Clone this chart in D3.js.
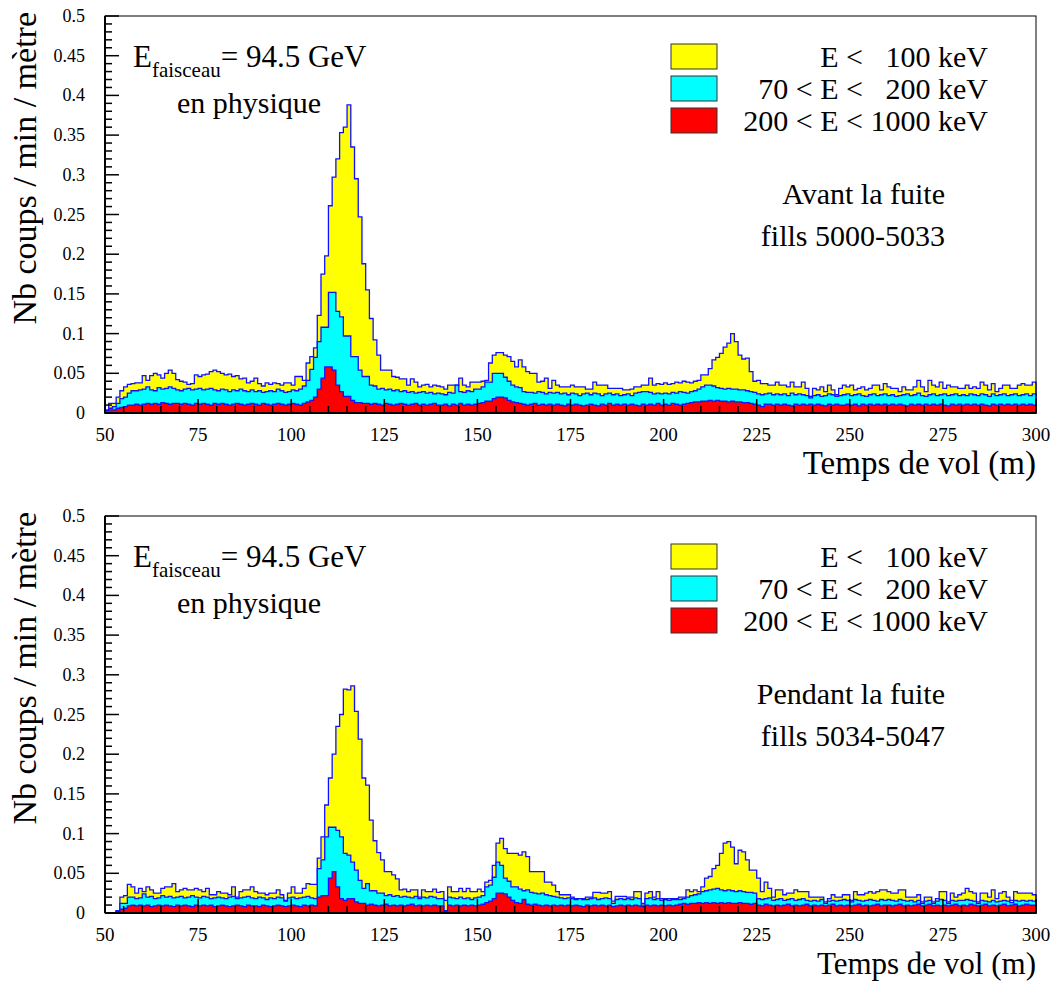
<!DOCTYPE html>
<html><head><meta charset="utf-8">
<script src="https://cdn.jsdelivr.net/npm/d3@7"></script>
<style>body{margin:0;background:#fff}</style>
</head><body>
<svg id="c" width="1054" height="981"></svg>
<script>
const binStart = 50, binEnd = 300;
const xMajorTicks = [50,75,100,125,150,175,200,225,250,275,300];
const yTickLabels = ["0","0.05","0.1","0.15","0.2","0.25","0.3","0.35","0.4","0.45","0.5"];
const legendLabels = ["E <   100 keV","70 < E <   200 keV","200 < E < 1000 keV"];
const seriesColors = ["#ffff00","#00ffff","#ff0000"];
const panelTexts = [["Avant la fuite","fills 5000-5033"],["Pendant la fuite","fills 5034-5047"]];

// Top panel (avant la fuite) — superimposed histograms, 1 m bins from 50 to 300
const topYellow = [
.004,.012,.012,.020,.028,.033,.036,.037,.038,.038,
.047,.041,.047,.050,.048,.044,.050,.054,.050,.042,
.040,.039,.036,.037,.048,.046,.048,.049,.052,.054,
.052,.050,.048,.049,.046,.047,.043,.044,.038,.040,
.044,.037,.034,.038,.036,.038,.037,.035,.038,.038,
.035,.046,.046,.041,.063,.071,.082,.123,.175,.198,
.261,.297,.320,.353,.360,.388,.335,.295,.247,.188,
.155,.119,.092,.073,.054,.054,.054,.046,.045,.043,
.043,.035,.043,.039,.033,.035,.036,.033,.035,.034,
.033,.030,.035,.035,.035,.044,.035,.033,.039,.039,
.039,.040,.041,.063,.073,.076,.076,.073,.071,.065,
.058,.067,.058,.052,.050,.050,.039,.040,.044,.031,
.041,.035,.033,.033,.033,.035,.033,.033,.033,.030,
.030,.039,.035,.035,.035,.031,.031,.031,.031,.029,
.029,.030,.033,.033,.035,.035,.044,.035,.037,.036,
.038,.036,.037,.039,.038,.040,.039,.038,.040,.041,
.048,.048,.056,.067,.070,.075,.083,.088,.100,.090,
.073,.068,.069,.052,.040,.041,.037,.037,.035,.035,
.039,.035,.035,.033,.039,.033,.033,.039,.031,.021,
.031,.029,.033,.027,.035,.029,.023,.031,.035,.033,
.035,.029,.031,.033,.029,.031,.035,.035,.029,.037,
.033,.031,.031,.027,.033,.029,.029,.033,.041,.033,
.027,.041,.035,.033,.039,.031,.035,.033,.033,.031,
.031,.035,.031,.033,.031,.039,.035,.029,.037,.027,
.031,.035,.035,.031,.031,.035,.037,.035,.035,.039];
const topCyan = [
.003,.006,.008,.012,.018,.020,.025,.028,.028,.029,
.030,.033,.029,.028,.032,.030,.031,.033,.031,.029,
.028,.030,.031,.029,.030,.031,.029,.030,.031,.029,
.028,.030,.029,.027,.029,.028,.030,.028,.027,.029,
.027,.028,.026,.027,.028,.027,.030,.028,.026,.027,
.029,.028,.030,.034,.041,.055,.070,.090,.108,.108,
.152,.152,.128,.121,.097,.097,.071,.071,.054,.046,
.046,.035,.034,.030,.031,.029,.030,.028,.029,.027,
.028,.026,.027,.025,.026,.027,.025,.026,.024,.025,
.024,.023,.026,.025,.035,.027,.026,.028,.027,.030,
.030,.033,.039,.039,.050,.050,.050,.045,.040,.035,
.033,.032,.027,.026,.026,.025,.027,.026,.024,.026,
.025,.026,.024,.025,.023,.025,.024,.022,.024,.025,
.023,.025,.024,.022,.024,.025,.023,.024,.022,.023,
.024,.022,.025,.026,.027,.027,.026,.024,.025,.024,
.025,.024,.026,.025,.027,.026,.025,.027,.028,.030,
.033,.035,.035,.034,.032,.031,.030,.031,.030,.030,
.029,.029,.028,.027,.026,.024,.023,.024,.025,.023,
.024,.023,.024,.022,.025,.023,.024,.023,.022,.019,
.022,.023,.021,.022,.024,.023,.021,.022,.023,.024,
.022,.023,.024,.022,.021,.023,.024,.022,.023,.024,
.022,.023,.021,.022,.023,.024,.022,.023,.025,.022,
.021,.023,.024,.022,.023,.024,.022,.023,.024,.022,
.023,.022,.024,.023,.022,.024,.023,.021,.024,.022,
.023,.024,.022,.023,.024,.022,.023,.024,.022,.024];
const topRed = [
.003,.004,.004,.006,.007,.008,.010,.010,.011,.010,
.011,.012,.011,.012,.011,.013,.012,.011,.012,.012,
.011,.012,.011,.010,.012,.011,.012,.011,.010,.012,
.011,.012,.011,.010,.011,.012,.011,.010,.011,.012,
.011,.010,.012,.011,.010,.011,.012,.011,.010,.011,
.012,.011,.010,.012,.014,.016,.020,.030,.044,.058,
.058,.054,.035,.027,.021,.021,.016,.013,.013,.012,
.012,.011,.012,.011,.010,.012,.011,.010,.011,.012,
.011,.010,.011,.012,.010,.011,.010,.011,.012,.010,
.010,.011,.009,.011,.010,.012,.010,.011,.010,.011,
.012,.013,.015,.015,.018,.020,.020,.019,.016,.014,
.013,.012,.011,.010,.011,.012,.010,.011,.010,.011,
.010,.011,.010,.009,.011,.010,.011,.010,.009,.010,
.011,.010,.009,.011,.010,.012,.010,.011,.010,.011,
.010,.011,.010,.009,.011,.010,.011,.010,.012,.010,
.011,.010,.012,.011,.010,.011,.012,.013,.014,.014,
.015,.015,.016,.015,.016,.015,.015,.014,.015,.014,
.014,.013,.013,.012,.011,.010,.008,.011,.011,.010,
.011,.010,.011,.010,.009,.011,.010,.011,.010,.011,
.010,.011,.010,.009,.011,.010,.011,.010,.010,.011,
.010,.011,.009,.011,.010,.011,.010,.011,.010,.011,
.010,.011,.010,.011,.010,.009,.011,.010,.011,.010,
.011,.010,.011,.010,.011,.010,.009,.011,.010,.011,
.010,.011,.010,.011,.010,.011,.010,.009,.011,.010,
.011,.010,.011,.010,.011,.010,.011,.010,.011,.010];

// Bottom panel (pendant la fuite)
const botYellow = [
0,0,0,.003,.020,.022,.036,.033,.025,.031,
.027,.033,.029,.025,.025,.031,.033,.033,.037,.027,
.029,.031,.029,.029,.031,.029,.027,.031,.023,.023,
.027,.025,.025,.023,.033,.020,.027,.029,.029,.033,
.027,.025,.025,.023,.025,.025,.029,.023,.016,.025,
.033,.025,.025,.031,.037,.036,.036,.069,.096,.136,
.170,.200,.235,.250,.282,.281,.286,.254,.219,.170,
.161,.117,.091,.076,.067,.052,.052,.048,.043,.029,
.030,.027,.029,.029,.020,.029,.027,.027,.030,.026,
.027,.016,.033,.027,.027,.031,.027,.031,.027,.027,
.030,.027,.039,.041,.060,.088,.094,.081,.075,.075,
.075,.073,.077,.071,.052,.052,.052,.052,.039,.039,
.035,.027,.023,.023,.023,.020,.018,.018,.018,.020,
.020,.026,.026,.025,.025,.027,.015,.021,.021,.021,
.020,.020,.027,.027,.012,.025,.027,.020,.027,.018,
.018,.018,.018,.018,.020,.020,.029,.027,.029,.027,
.033,.044,.046,.056,.060,.075,.088,.090,.083,.062,
.079,.077,.067,.054,.054,.044,.027,.039,.031,.020,
.029,.029,.023,.025,.025,.029,.027,.027,.027,.020,
.020,.020,.020,.014,.018,.023,.020,.020,.023,.023,
.016,.027,.023,.023,.025,.027,.025,.027,.029,.029,
.027,.025,.025,.029,.029,.020,.020,.020,.023,.014,
.020,.020,.014,.018,.027,.027,.014,.025,.020,.023,
.025,.031,.027,.025,.014,.025,.025,.020,.029,.018,
.025,.027,.020,.016,.027,.025,.025,.025,.025,.023];
const botCyan = [
0,0,0,.003,.012,.012,.020,.020,.018,.019,
.024,.020,.021,.018,.019,.022,.020,.021,.019,.020,
.021,.019,.020,.022,.020,.019,.021,.020,.018,.019,
.020,.019,.018,.020,.021,.018,.019,.020,.021,.019,
.018,.020,.019,.017,.019,.018,.020,.019,.015,.019,
.020,.018,.019,.020,.021,.019,.018,.056,.067,.096,
.108,.108,.104,.096,.075,.073,.064,.054,.041,.031,
.037,.028,.028,.025,.025,.022,.023,.021,.022,.020,
.021,.020,.019,.021,.018,.020,.019,.021,.020,.018,
.018,.003,.020,.019,.018,.020,.018,.019,.017,.019,
.020,.022,.033,.035,.045,.064,.060,.044,.040,.033,
.033,.030,.028,.029,.026,.025,.024,.025,.023,.022,
.021,.020,.019,.018,.019,.018,.017,.018,.017,.017,
.018,.019,.017,.018,.019,.018,.012,.017,.018,.017,
.018,.017,.019,.018,.010,.018,.019,.017,.018,.016,
.017,.016,.017,.017,.017,.018,.020,.022,.023,.024,
.027,.028,.029,.030,.031,.029,.028,.029,.028,.027,
.028,.027,.026,.026,.025,.018,.017,.018,.019,.016,
.017,.018,.016,.017,.018,.016,.017,.018,.016,.015,
.016,.015,.017,.012,.015,.016,.015,.016,.017,.016,
.014,.017,.016,.015,.016,.017,.016,.015,.017,.016,
.017,.016,.015,.017,.016,.015,.016,.014,.016,.012,
.015,.016,.012,.015,.017,.016,.012,.016,.015,.016,
.016,.017,.016,.015,.012,.016,.015,.014,.016,.014,
.015,.016,.015,.013,.016,.015,.016,.015,.016,.015];
const botRed = [
0,0,0,.002,.005,.006,.009,.010,.009,.010,
.009,.010,.008,.009,.010,.009,.010,.009,.008,.010,
.009,.010,.009,.008,.010,.009,.010,.009,.010,.008,
.009,.010,.009,.008,.009,.010,.009,.008,.010,.009,
.009,.008,.010,.009,.008,.009,.010,.009,.008,.009,
.010,.009,.008,.010,.009,.010,.009,.020,.022,.022,
.044,.052,.033,.018,.016,.018,.018,.014,.012,.012,
.010,.011,.010,.009,.010,.011,.009,.010,.009,.010,
.009,.010,.011,.009,.010,.009,.010,.009,.010,.009,
.009,.002,.010,.009,.010,.009,.010,.009,.010,.009,
.010,.011,.013,.015,.018,.025,.025,.024,.020,.016,
.013,.012,.017,.011,.010,.011,.010,.009,.010,.009,
.010,.009,.010,.009,.010,.009,.010,.009,.008,.010,
.009,.010,.009,.010,.009,.010,.008,.009,.010,.009,
.010,.009,.010,.009,.008,.010,.009,.010,.009,.010,
.009,.010,.009,.010,.011,.012,.011,.012,.012,.013,
.012,.013,.012,.013,.012,.013,.012,.013,.012,.012,
.013,.012,.012,.011,.012,.010,.009,.011,.010,.009,
.010,.009,.010,.011,.009,.010,.009,.010,.011,.009,
.010,.009,.010,.009,.010,.011,.009,.010,.009,.010,
.009,.010,.011,.009,.010,.009,.010,.011,.009,.010,
.010,.009,.010,.011,.009,.010,.009,.010,.011,.009,
.010,.011,.009,.010,.009,.010,.009,.010,.011,.009,
.010,.009,.011,.010,.009,.010,.011,.009,.010,.009,
.010,.011,.009,.010,.011,.009,.010,.011,.010,.010];

const panelSeries = [[topYellow, topCyan, topRed],[botYellow, botCyan, botRed]];

const FONT = "'Liberation Serif','Times New Roman',Times,serif";
const svg = d3.select("#c");
const left = 105, right = 1036;
const titleY = [474, 974];
const titleSize = [33, 31];

function drawPanel(pi, offset) {
  const top = 16 + offset, bottom = 413 + offset;
  const x = d3.scaleLinear().domain([binStart, binEnd]).range([left, right]);
  const y = d3.scaleLinear().domain([0, 0.5]).range([bottom, top]);
  const g = svg.append("g");

  // histograms (drawn superimposed, each from 0)
  panelSeries[pi].forEach((vals, si) => {
    const pts = [{x: binStart, v: 0}];
    vals.forEach((v, i) => pts.push({x: binStart + i, v}));
    pts.push({x: binStart + vals.length, v: vals[vals.length - 1]});
    pts.push({x: binStart + vals.length, v: 0});
    const line = d3.line().x(d => x(d.x)).y(d => y(d.v)).curve(d3.curveStepAfter);
    g.append("path").attr("d", line(pts) + "Z")
      .attr("fill", seriesColors[si]).attr("stroke", "#1010ff")
      .attr("stroke-width", 1.3).attr("stroke-linejoin", "miter");
  });

  // frame
  g.append("rect").attr("x", left).attr("y", top).attr("width", right - left).attr("height", bottom - top)
    .attr("fill", "none").attr("stroke", "#000").attr("stroke-width", 1);
  g.append("line").attr("x1", left).attr("x2", right).attr("y1", bottom).attr("y2", bottom)
    .attr("stroke", "#000").attr("stroke-width", 2);
  g.append("line").attr("x1", left).attr("x2", left).attr("y1", top).attr("y2", bottom)
    .attr("stroke", "#000").attr("stroke-width", 2);

  // y ticks
  const yMinor = d3.range(0, 51).map(i => i / 100);
  yMinor.forEach((v, i) => {
    const major = i % 5 === 0;
    g.append("line").attr("x1", left).attr("x2", left + (major ? 14 : 7))
      .attr("y1", y(v)).attr("y2", y(v)).attr("stroke", "#000").attr("stroke-width", 1.5);
  });
  yTickLabels.forEach((lab, i) => {
    g.append("text").attr("x", 85).attr("y", y(i * 0.05) + 6)
      .attr("text-anchor", "end").attr("font-family", FONT).attr("font-size", 18).text(lab);
  });

  // x ticks
  d3.range(binStart, binEnd + 1, 5).forEach(v => {
    const major = (v - binStart) % 25 === 0;
    g.append("line").attr("x1", x(v)).attr("x2", x(v))
      .attr("y1", bottom).attr("y2", bottom - (major ? 14 : 7)).attr("stroke", "#000").attr("stroke-width", 1.5);
  });
  xMajorTicks.forEach(v => {
    g.append("text").attr("x", x(v)).attr("y", bottom + 28).attr("text-anchor", "middle")
      .attr("font-family", FONT).attr("font-size", 19).text(v);
  });

  // axis titles
  g.append("text").attr("x", right).attr("y", titleY[pi]).attr("text-anchor", "end")
    .attr("font-family", FONT).attr("font-size", titleSize[pi]).text("Temps de vol (m)");
  g.append("text").attr("transform", `translate(36,${top - 4}) rotate(-90)`).attr("text-anchor", "end")
    .attr("font-family", FONT).attr("font-size", 34).text("Nb coups / min / mètre");

  // beam energy
  const t = g.append("text").attr("x", 133).attr("y", 67 + offset).attr("font-family", FONT).attr("font-size", 31);
  t.append("tspan").text("E");
  t.append("tspan").attr("font-size", 21).attr("dy", 10).text("faisceau");
  t.append("tspan").attr("dy", -10).text("= 94.5 GeV");
  g.append("text").attr("x", 177).attr("y", 113 + offset).attr("font-family", FONT).attr("font-size", 30).text("en physique");

  // legend
  legendLabels.forEach((lab, i) => {
    const yy = 44 + offset + i * 32;
    g.append("rect").attr("x", 671).attr("y", yy).attr("width", 46).attr("height", 25)
      .attr("fill", seriesColors[i]).attr("stroke", "#333").attr("stroke-width", 1);
    g.append("text").attr("x", 988).attr("y", yy + 23).attr("text-anchor", "end")
      .attr("font-family", FONT).attr("font-size", 30).style("white-space", "pre").text(lab);
  });

  // panel label
  g.append("text").attr("x", 945).attr("y", 204 + offset).attr("text-anchor", "end")
    .attr("font-family", FONT).attr("font-size", 30).text(panelTexts[pi][0]);
  g.append("text").attr("x", 945).attr("y", 246 + offset).attr("text-anchor", "end")
    .attr("font-family", FONT).attr("font-size", 30).text(panelTexts[pi][1]);
}

drawPanel(0, 0);
drawPanel(1, 500);
</script>
</body></html>
